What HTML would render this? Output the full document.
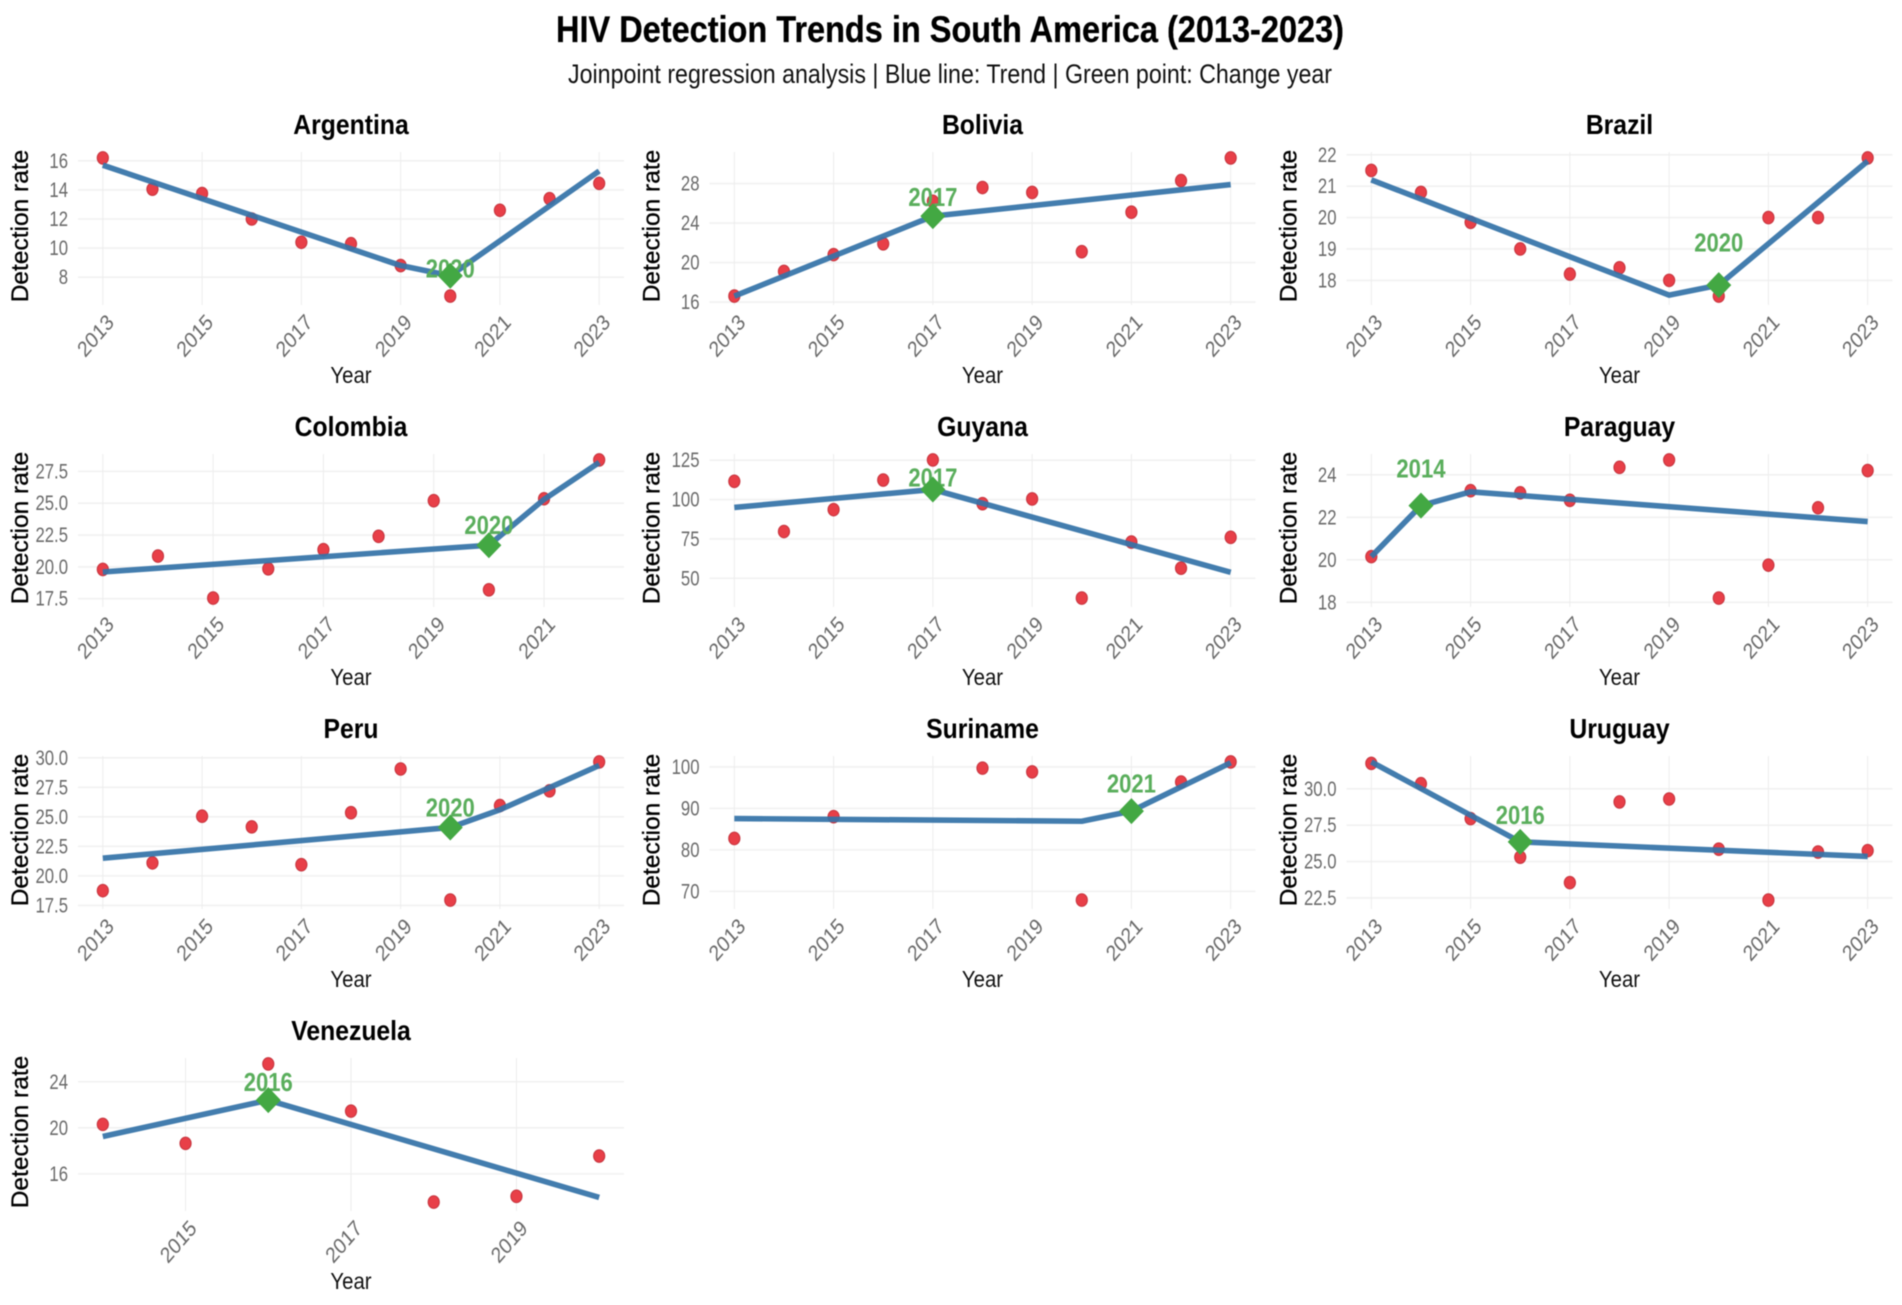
<!DOCTYPE html>
<html lang="en">
<head>
<meta charset="utf-8">
<title>HIV Detection Trends in South America (2013-2023)</title>
<style>
html,body{margin:0;padding:0;background:#fff;}
svg{display:block;font-family:"Liberation Sans",Arial,sans-serif;filter:blur(0.6px);}
</style>
</head>
<body>
<svg id="chart" xmlns="http://www.w3.org/2000/svg" width="1902" height="1305" viewBox="0 0 1902 1305">
  <rect width="1902" height="1305" fill="#ffffff"/>
  <text x="950" y="42" text-anchor="middle" font-size="37" font-weight="700" fill="#000" stroke="#000" stroke-width="0.3" textLength="788" lengthAdjust="spacingAndGlyphs">HIV Detection Trends in South America (2013-2023)</text>
  <text x="950" y="83" text-anchor="middle" font-size="27" fill="#111" textLength="764" lengthAdjust="spacingAndGlyphs">Joinpoint regression analysis | Blue line: Trend | Green point: Change year</text>
  <g id="panels"></g>
</svg>
<script>
// ---- Data ----
const argentinaYears = [2013,2014,2015,2016,2017,2018,2019,2020,2021,2022,2023];
const argentinaRates = [16.2,14.05,13.75,12.0,10.4,10.3,8.8,6.7,12.6,13.4,14.45];
const argentinaTrendYears = [2013,2019,2020,2023];
const argentinaTrendRates = [15.7,8.8,8.1,15.3];
const argentinaTicks = [8,10,12,14,16];

const boliviaYears = [2013,2014,2015,2016,2017,2018,2019,2020,2021,2022,2023];
const boliviaRates = [16.6,19.1,20.8,21.9,26.2,27.6,27.1,21.1,25.1,28.3,30.6];
const boliviaTrendYears = [2013,2017,2023];
const boliviaTrendRates = [16.6,24.7,27.9];
const boliviaTicks = [16,20,24,28];

const brazilYears = [2013,2014,2015,2016,2017,2018,2019,2020,2021,2022,2023];
const brazilRates = [21.5,20.8,19.85,19.0,18.2,18.4,18.0,17.5,20.0,20.0,21.9];
const brazilTrendYears = [2013,2019,2020,2023];
const brazilTrendRates = [21.2,17.53,17.85,21.8];
const brazilTicks = [18,19,20,21,22];

const colombiaYears = [2013,2014,2015,2016,2017,2018,2019,2020,2021,2022];
const colombiaRates = [19.8,20.85,17.55,19.85,21.35,22.4,25.2,18.2,25.35,28.4];
const colombiaTrendYears = [2013,2020,2021,2022];
const colombiaTrendRates = [19.6,21.7,25.3,28.2];
const colombiaTicks = [17.5,20.0,22.5,25.0,27.5];

const guyanaYears = [2013,2014,2015,2016,2017,2018,2019,2020,2021,2022,2023];
const guyanaRates = [111.6,79.7,93.6,112.4,125.2,97.4,100.4,37.4,73,56.4,76];
const guyanaTrendYears = [2013,2017,2023];
const guyanaTrendRates = [95,106.4,53.8];
const guyanaTicks = [50,75,100,125];

const paraguayYears = [2013,2014,2015,2016,2017,2018,2019,2020,2021,2022,2023];
const paraguayRates = [20.15,22.55,23.25,23.15,22.8,24.35,24.7,18.2,19.75,22.45,24.2];
const paraguayTrendYears = [2013,2014,2015,2023];
const paraguayTrendRates = [20.15,22.55,23.2,21.8];
const paraguayTicks = [18,20,22,24];

const peruYears = [2013,2014,2015,2016,2017,2018,2019,2020,2021,2022,2023];
const peruRates = [18.75,21.1,25.05,24.15,20.95,25.35,29.05,17.95,25.95,27.2,29.65];
const peruTrendYears = [2013,2020,2021,2023];
const peruTrendRates = [21.5,24.1,25.6,29.35];
const peruTicks = [17.5,20.0,22.5,25.0,27.5,30.0];

const surinameYears = [2013,2015,2018,2019,2020,2021,2022,2023];
const surinameRates = [82.75,88,99.7,98.8,67.9,89.4,96.35,101.2];
const surinameTrendYears = [2013,2020,2021,2023];
const surinameTrendRates = [87.55,86.9,89.35,101];
const surinameTicks = [70,80,90,100];

const uruguayYears = [2013,2014,2015,2016,2017,2018,2019,2020,2021,2022,2023];
const uruguayRates = [31.75,30.35,27.95,25.3,23.55,29.1,29.3,25.85,22.35,25.65,25.75];
const uruguayTrendYears = [2013,2016,2023];
const uruguayTrendRates = [31.85,26.35,25.35];
const uruguayTicks = [22.5,25.0,27.5,30.0];

const venezuelaYears = [2014,2015,2016,2017,2018,2019,2020];
const venezuelaRates = [20.3,18.65,25.55,21.45,13.55,14.05,17.55];
const venezuelaTrendYears = [2014,2016,2020];
const venezuelaTrendRates = [19.25,22.4,13.95];
const venezuelaTicks = [16,20,24];

const countries = ["Argentina","Bolivia","Brazil","Colombia","Guyana","Paraguay","Peru","Suriname","Uruguay","Venezuela"];
const pointYears = [argentinaYears,boliviaYears,brazilYears,colombiaYears,guyanaYears,paraguayYears,peruYears,surinameYears,uruguayYears,venezuelaYears];
const pointRates = [argentinaRates,boliviaRates,brazilRates,colombiaRates,guyanaRates,paraguayRates,peruRates,surinameRates,uruguayRates,venezuelaRates];
const trendYears = [argentinaTrendYears,boliviaTrendYears,brazilTrendYears,colombiaTrendYears,guyanaTrendYears,paraguayTrendYears,peruTrendYears,surinameTrendYears,uruguayTrendYears,venezuelaTrendYears];
const trendRates = [argentinaTrendRates,boliviaTrendRates,brazilTrendRates,colombiaTrendRates,guyanaTrendRates,paraguayTrendRates,peruTrendRates,surinameTrendRates,uruguayTrendRates,venezuelaTrendRates];
const yTickValues = [argentinaTicks,boliviaTicks,brazilTicks,colombiaTicks,guyanaTicks,paraguayTicks,peruTicks,surinameTicks,uruguayTicks,venezuelaTicks];
const xTickValues = [
  [2013,2015,2017,2019,2021,2023],[2013,2015,2017,2019,2021,2023],[2013,2015,2017,2019,2021,2023],
  [2013,2015,2017,2019,2021],[2013,2015,2017,2019,2021,2023],[2013,2015,2017,2019,2021,2023],
  [2013,2015,2017,2019,2021,2023],[2013,2015,2017,2019,2021,2023],[2013,2015,2017,2019,2021,2023],
  [2015,2017,2019]
];
const changeYears = [2020,2017,2020,2020,2017,2014,2020,2021,2016,2016];
const changeLabelRates = [8.6,26.65,19.2,23.3,113.9,24.3,25.8,95.95,28.2,24.0];

// ---- Layout ----
const NS = "http://www.w3.org/2000/svg";
const colLeft = [78, 709.5, 1346.5];
const plotW = 546, plotH = 152, firstTop = 151, rowPitch = 302;
const root = document.getElementById("panels");

function mk(parent, tag, attrs, txt){
  const e = document.createElementNS(NS, tag);
  for (const k in attrs) e.setAttribute(k, attrs[k]);
  if (txt !== undefined) e.textContent = txt;
  parent.appendChild(e);
  return e;
}
function extent(arr){ return [Math.min.apply(null,arr), Math.max.apply(null,arr)]; }
function linear(d0,d1,r0,r1){ return v => r0 + (v-d0)/(d1-d0)*(r1-r0); }
function slug(s){ return s.toLowerCase(); }

countries.forEach((country,i)=>{
  const col = i % 3, row = Math.floor(i/3);
  const L = colLeft[col], T = firstTop + row*rowPitch, R = L+plotW, B = T+plotH;
  const name = slug(country);
  const py = pointYears[i], pr = pointRates[i], ty = trendYears[i], tr = trendRates[i];

  const xe = extent(py.concat(ty));
  const ye = extent(pr.concat(tr));
  const xp = (xe[1]-xe[0])*0.05, yp = (ye[1]-ye[0])*0.05;
  const x = linear(xe[0]-xp, xe[1]+xp, L, R);
  const y = linear(ye[0]-yp, ye[1]+yp, B, T);

  const g = mk(root,"g",{});
  
  

  // horizontal grid and y ticks
  yTickValues[i].forEach(v=>{
    const gl = mk(g,"line",{x1:L,x2:R,y1:y(v),y2:y(v),stroke:"#f1f1f1","stroke-width":1.6});
    
    
    const lab = mk(g,"text",{
      transform:"translate("+(L-10)+","+(y(v)+7)+") scale(0.88,1.1)",
      "text-anchor":"end","font-size":19,fill:"#6a6a6a"
    }, Number.isInteger(v) && yTickValues[i].every(Number.isInteger) ? String(v) : v.toFixed(1));
    
    
  });

  // vertical grid and x ticks
  xTickValues[i].forEach(v=>{
    const gl = mk(g,"line",{x1:x(v),x2:x(v),y1:T+1,y2:B+2,stroke:"#ededed","stroke-width":1});
    
    
    const lab = mk(g,"text",{
      transform:"translate("+(x(v)-7)+","+(B+33)+") scale(0.95,1.1) rotate(-45)",
      "text-anchor":"middle","dominant-baseline":"central","font-size":20,fill:"#6a6a6a"
    }, String(v));
    
    
  });

  // observed points
  py.forEach((yr,k)=>{
    const c = mk(g,"ellipse",{cx:x(yr),cy:y(pr[k]),rx:5.6,ry:6.3,fill:"#e83f48",stroke:"#c5343e","stroke-width":1});
    
    
  });

  // trend line
  const pts = ty.map((yr,k)=>x(yr)+","+y(tr[k])).join(" ");
  const line = mk(g,"polyline",{points:pts,fill:"none",stroke:"#3573a8","stroke-width":5.6,"stroke-linejoin":"round",opacity:0.93});
  
  

  // change-year label then diamond
  const cy = changeYears[i];
  const lbl = mk(g,"text",{
    transform:"translate("+x(cy)+","+(y(changeLabelRates[i])+9)+") scale(0.96,1.14)",
    "text-anchor":"middle","font-size":23,"font-weight":700,fill:"#5aae5c"
  }, String(cy));
  
  

  const dx = x(cy), dy = y(tr[ty.indexOf(cy)]);
  const d = mk(g,"polygon",{points:[[dx,dy-13],[dx+12.5,dy],[dx,dy+13],[dx-12.5,dy]].map(p=>p.join(",")).join(" "),fill:"#43a843"});
  
  

  // facet title
  const cx = L+plotW/2;
  const ti = mk(g,"text",{
    transform:"translate("+cx+","+(T-17)+") scale(0.99,1.12)",
    "text-anchor":"middle","font-size":25,"font-weight":700,fill:"#000"
  }, country);
  
  

  // axis titles
  const xt = mk(g,"text",{
    transform:"translate("+cx+","+(B+80)+") scale(0.97,1.12)",
    "text-anchor":"middle","font-size":21,fill:"#111"
  }, "Year");
  
  

  const yt = mk(g,"text",{
    transform:"translate("+(L-50)+","+(T+75)+") rotate(-90) scale(0.98,0.96)",
    "text-anchor":"middle","font-size":25,fill:"#000",stroke:"#000","stroke-width":0.3
  }, "Detection rate");
  
  
});
</script>
</body>
</html>
